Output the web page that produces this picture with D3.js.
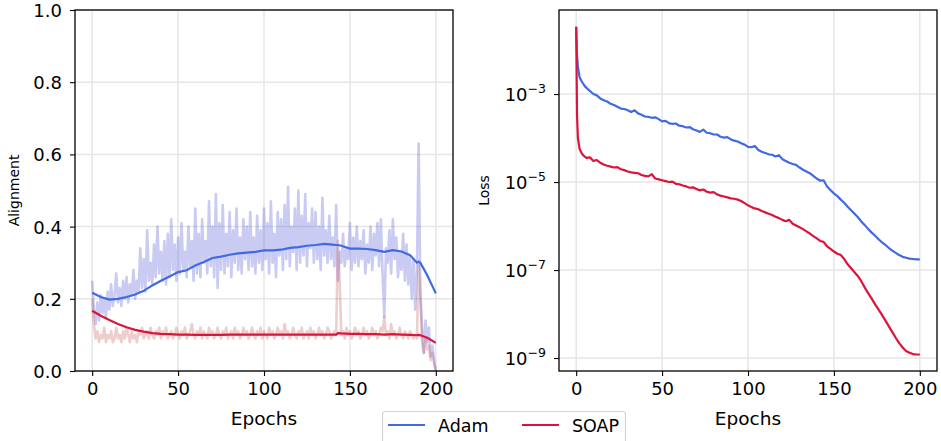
<!DOCTYPE html>
<html><head><meta charset="utf-8">
<script src="https://cdn.jsdelivr.net/npm/d3@7"></script>
<style>
body{margin:0;background:#fff;}
svg{display:block;font-family:"DejaVu Sans",sans-serif;}
</style></head><body>
<svg id="chart" width="941" height="441"></svg>
<script>
// ---- data ----
const seriesNames = ["Adam", "SOAP"];
const epochs = d3.range(0, 201);

// per-epoch alignment (raw)
const adamAlignRaw = [
0.25,0.17,0.13,0.19,0.14,0.21,0.16,0.20,0.15,0.22,
0.17,0.24,0.18,0.21,0.27,0.19,0.23,0.18,0.25,0.20,
0.26,0.19,0.24,0.21,0.28,0.20,0.25,0.22,0.34,0.23,
0.31,0.22,0.39,0.25,0.30,0.24,0.35,0.26,0.40,0.27,
0.33,0.25,0.36,0.24,0.38,0.26,0.42,0.28,0.35,0.25,
0.37,0.27,0.41,0.28,0.33,0.26,0.40,0.29,0.36,0.25,
0.45,0.27,0.38,0.26,0.42,0.30,0.36,0.27,0.47,0.29,
0.40,0.26,0.49,0.23,0.41,0.28,0.46,0.27,0.38,0.29,
0.44,0.26,0.39,0.30,0.45,0.28,0.37,0.27,0.42,0.31,
0.40,0.28,0.44,0.29,0.37,0.27,0.43,0.30,0.39,0.28,
0.45,0.31,0.41,0.27,0.47,0.30,0.38,0.26,0.44,0.32,
0.42,0.28,0.46,0.31,0.51,0.29,0.40,0.33,0.45,0.28,
0.50,0.30,0.43,0.32,0.49,0.29,0.41,0.34,0.45,0.30,
0.44,0.31,0.40,0.28,0.48,0.32,0.39,0.30,0.43,0.31,
0.37,0.29,0.46,0.25,0.33,0.30,0.38,0.29,0.34,0.31,
0.41,0.28,0.37,0.30,0.40,0.29,0.36,0.31,0.39,0.27,
0.35,0.30,0.40,0.28,0.38,0.32,0.41,0.29,0.42,0.27,
0.15,0.34,0.30,0.39,0.27,0.42,0.31,0.37,0.26,0.33,
0.28,0.38,0.25,0.35,0.24,0.32,0.20,0.31,0.17,0.28,
0.63,0.22,0.12,0.05,0.14,0.08,0.12,0.04,0.07,0.03,
0.00];
const soapAlignRaw = [
0.20,0.13,0.09,0.11,0.08,0.10,0.09,0.12,0.08,0.10,
0.09,0.11,0.08,0.09,0.12,0.09,0.10,0.08,0.11,0.09,
0.12,0.10,0.08,0.11,0.09,0.10,0.08,0.11,0.10,0.12,
0.09,0.10,0.11,0.09,0.12,0.10,0.09,0.11,0.10,0.12,
0.09,0.11,0.10,0.12,0.09,0.10,0.11,0.09,0.10,0.12,
0.10,0.09,0.11,0.10,0.12,0.09,0.10,0.11,0.13,0.10,
0.09,0.11,0.10,0.12,0.09,0.11,0.10,0.09,0.12,0.10,
0.11,0.09,0.10,0.12,0.10,0.09,0.11,0.10,0.12,0.09,
0.10,0.11,0.09,0.12,0.10,0.11,0.09,0.10,0.12,0.10,
0.11,0.09,0.10,0.12,0.10,0.09,0.11,0.10,0.12,0.09,
0.11,0.10,0.09,0.12,0.10,0.11,0.09,0.10,0.12,0.10,
0.11,0.09,0.13,0.10,0.11,0.09,0.10,0.12,0.10,0.09,
0.11,0.10,0.12,0.09,0.10,0.11,0.09,0.12,0.10,0.11,
0.09,0.10,0.12,0.10,0.11,0.09,0.10,0.12,0.11,0.09,
0.10,0.11,0.10,0.36,0.25,0.10,0.11,0.09,0.12,0.10,
0.11,0.09,0.10,0.12,0.10,0.11,0.09,0.10,0.12,0.10,
0.11,0.09,0.10,0.12,0.10,0.11,0.09,0.10,0.12,0.11,
0.15,0.10,0.11,0.09,0.13,0.10,0.11,0.09,0.10,0.12,
0.10,0.09,0.11,0.10,0.09,0.11,0.10,0.09,0.10,0.09,
0.30,0.20,0.08,0.05,0.09,0.06,0.07,0.03,0.05,0.02,
0.00];

// smoothed alignment
const smoothEpochs = [0,5,10,15,20,25,30,35,40,45,50,55,60,65,70,75,80,85,90,95,100,
  105,110,115,120,125,130,135,140,142,143,145,150,155,160,165,170,175,180,185,189,190,191,195,200];
const adamAlignSmooth = [0.217,0.205,0.198,0.200,0.205,0.212,0.222,0.237,0.250,0.262,0.274,
  0.279,0.292,0.302,0.313,0.317,0.322,0.326,0.328,0.330,0.334,
  0.334,0.336,0.341,0.343,0.347,0.349,0.352,0.350,0.349,0.349,0.347,0.339,0.339,0.338,0.335,
  0.330,0.335,0.331,0.321,0.300,0.303,0.300,0.265,0.215];
const soapAlignSmooth = [0.167,0.153,0.141,0.130,0.121,0.114,0.109,0.105,0.103,0.102,0.101,
  0.101,0.100,0.100,0.100,0.100,0.101,0.101,0.101,0.101,0.101,
  0.101,0.101,0.101,0.101,0.101,0.101,0.101,0.101,0.101,0.105,0.104,0.103,0.103,0.102,0.102,
  0.101,0.102,0.101,0.100,0.099,0.100,0.099,0.092,0.078];

// training loss, stored as log10 exponents
const lossEpochs = [0,0.5,1,2,3,4,5,6,8,10,12,14,16,18,20,22,24,26,28,30,32,34,36,38,40,42,44,46,48,50,
  52,54,56,58,60,62,64,66,68,70,72,74,76,78,80,82,84,86,88,90,92,94,96,98,100,
  102,104,106,108,110,112,114,116,118,120,122,124,126,128,130,132,134,136,138,140,
  142,144,146,148,150,152,154,156,158,160,162,164,166,168,170,172,174,176,178,180,
  182,184,186,188,190,192,194,196,198,200];
const adamLossExp = [-1.47,-2.10,-2.38,-2.62,-2.70,-2.76,-2.82,-2.86,-2.93,-3.00,-3.03,-3.10,-3.14,-3.17,-3.22,-3.25,-3.29,-3.33,-3.34,-3.37,-3.41,-3.37,-3.44,-3.47,-3.51,-3.52,-3.54,-3.53,-3.57,-3.62,
  -3.61,-3.66,-3.68,-3.67,-3.72,-3.73,-3.76,-3.75,-3.80,-3.83,-3.86,-3.81,-3.88,-3.89,-3.92,-3.92,-3.97,-3.99,-3.98,-4.03,-4.06,-4.08,-4.12,-4.15,-4.20,
  -4.21,-4.18,-4.27,-4.31,-4.34,-4.37,-4.38,-4.42,-4.39,-4.48,-4.52,-4.56,-4.59,-4.61,-4.67,-4.72,-4.76,-4.80,-4.86,-4.92,
  -4.97,-4.96,-5.10,-5.18,-5.26,-5.32,-5.40,-5.47,-5.56,-5.64,-5.72,-5.80,-5.90,-5.98,-6.07,-6.15,-6.22,-6.30,-6.37,-6.43,
  -6.50,-6.56,-6.61,-6.66,-6.70,-6.72,-6.74,-6.75,-6.76,-6.76];
const soapLossExp = [-1.47,-3.50,-4.00,-4.25,-4.33,-4.39,-4.42,-4.45,-4.44,-4.52,-4.50,-4.56,-4.60,-4.63,-4.65,-4.67,-4.66,-4.71,-4.73,-4.76,-4.78,-4.79,-4.80,-4.84,-4.86,-4.87,-4.82,-4.92,-4.94,-4.96,
  -4.98,-5.00,-4.99,-5.04,-5.05,-5.08,-5.10,-5.13,-5.12,-5.16,-5.19,-5.17,-5.22,-5.24,-5.23,-5.28,-5.31,-5.33,-5.35,-5.37,-5.38,-5.40,-5.43,-5.48,-5.53,
  -5.57,-5.60,-5.62,-5.66,-5.69,-5.72,-5.75,-5.79,-5.82,-5.86,-5.89,-5.86,-5.95,-5.99,-6.03,-6.07,-6.12,-6.17,-6.23,-6.28,
  -6.34,-6.36,-6.46,-6.52,-6.58,-6.63,-6.66,-6.75,-6.87,-6.96,-7.05,-7.14,-7.26,-7.40,-7.53,-7.65,-7.78,-7.90,-8.02,-8.15,
  -8.28,-8.41,-8.54,-8.66,-8.76,-8.84,-8.88,-8.91,-8.92,-8.92];

const xTicks = [0, 50, 100, 150, 200];
const alignTicks = [0, 0.2, 0.4, 0.6, 0.8, 1.0];
const lossTickExps = [-3, -5, -7, -9];

// ---- drawing ----
const colors = {Adam: "#4169e1", SOAP: "#dc143c"};
const rawColors = {Adam: "#6468dc", SOAP: "#c04848"};
const svg = d3.select("#chart");
const gridColor = "#e6e6e6";

function frame(g, x0, x1, y0, y1) {
  g.append("rect").attr("x", x0).attr("y", y0).attr("width", x1 - x0).attr("height", y1 - y0)
    .attr("fill", "none").attr("stroke", "#000").attr("stroke-width", 1.3);
}

// left panel: alignment
const L = {x0: 75, x1: 453, y0: 10, y1: 371};
const xL = d3.scaleLinear().domain([-10, 210]).range([L.x0, L.x1]);
const yL = d3.scaleLinear().domain([0, 1]).range([L.y1, L.y0]);

// right panel: loss (log scale)
const R = {x0: 559, x1: 937, y0: 10, y1: 371};
const xR = d3.scaleLinear().domain([-10, 210]).range([R.x0, R.x1]);
const yR = d3.scaleLog().domain([Math.pow(10, -9.295), Math.pow(10, -1.09)]).range([R.y1, R.y0]);

function grid(g, P, xs, xTickVals, ys, yTickVals) {
  g.selectAll("line.gx").data(xTickVals).join("line").attr("class", "gx")
    .attr("x1", d => xs(d)).attr("x2", d => xs(d)).attr("y1", P.y0).attr("y2", P.y1)
    .attr("stroke", gridColor).attr("stroke-width", 1.5);
  g.selectAll("line.gy").data(yTickVals).join("line").attr("class", "gy")
    .attr("y1", d => ys(d)).attr("y2", d => ys(d)).attr("x1", P.x0).attr("x2", P.x1)
    .attr("stroke", gridColor).attr("stroke-width", 1.5);
}

function styleAxis(sel) {
  sel.select(".domain").remove();
  sel.selectAll(".tick line").attr("stroke", "#000").attr("stroke-width", 1.1);
  sel.selectAll(".tick text").attr("fill", "#000").attr("font-size", 18)
    .attr("font-family", "DejaVu Sans, sans-serif");
}

// ----- left -----
const gl = svg.append("g");
grid(gl, L, xL, xTicks, yL, alignTicks);

const clipL = svg.append("clipPath").attr("id", "clipL");
clipL.append("rect").attr("x", L.x0).attr("y", L.y0).attr("width", L.x1 - L.x0).attr("height", L.y1 - L.y0);
const plotL = gl.append("g").attr("clip-path", "url(#clipL)");

const rawLine = d3.line().x((d, i) => xL(epochs[i])).y(d => yL(d));
plotL.append("path").attr("d", rawLine(adamAlignRaw)).attr("fill", "none")
  .attr("stroke", rawColors.Adam).attr("stroke-opacity", 0.34).attr("stroke-width", 2.6)
  .attr("stroke-linejoin", "round");
plotL.append("path").attr("d", rawLine(soapAlignRaw)).attr("fill", "none")
  .attr("stroke", rawColors.SOAP).attr("stroke-opacity", 0.27).attr("stroke-width", 2.6)
  .attr("stroke-linejoin", "round");

const smoothLine = d3.line().x((d, i) => xL(smoothEpochs[i])).y(d => yL(d));
plotL.append("path").attr("d", smoothLine(adamAlignSmooth)).attr("fill", "none")
  .attr("stroke", colors.Adam).attr("stroke-width", 2.2);
plotL.append("path").attr("d", smoothLine(soapAlignSmooth)).attr("fill", "none")
  .attr("stroke", colors.SOAP).attr("stroke-width", 2.2);

const axXL = gl.append("g").attr("transform", `translate(0,${L.y1})`)
  .call(d3.axisBottom(xL).tickValues(xTicks).tickSize(5).tickPadding(6).tickFormat(d3.format("d")));
styleAxis(axXL);
const axYL = gl.append("g").attr("transform", `translate(${L.x0},0)`)
  .call(d3.axisLeft(yL).tickValues(alignTicks).tickSize(5).tickPadding(8).tickFormat(d3.format(".1f")));
styleAxis(axYL);
axYL.selectAll(".tick text").attr("dy", "0.36em");
frame(gl, L.x0, L.x1, L.y0, L.y1);

gl.append("text").attr("x", (L.x0 + L.x1) / 2).attr("y", 425).attr("text-anchor", "middle")
  .attr("font-size", 18.5).text("Epochs");
gl.append("text").attr("transform", `translate(18.5,${(L.y0 + L.y1) / 2}) rotate(-90)`)
  .attr("text-anchor", "middle").attr("font-size", 14).text("Alignment");

// ----- right -----
const gr = svg.append("g");
const lossTicks = lossTickExps.map(e => Math.pow(10, e));
grid(gr, R, xR, xTicks, yR, lossTicks);

const clipR = svg.append("clipPath").attr("id", "clipR");
clipR.append("rect").attr("x", R.x0).attr("y", R.y0).attr("width", R.x1 - R.x0).attr("height", R.y1 - R.y0);
const plotR = gr.append("g").attr("clip-path", "url(#clipR)");

const lossLine = d3.line().x((d, i) => xR(lossEpochs[i])).y(d => yR(Math.pow(10, d)));
plotR.append("path").attr("d", lossLine(adamLossExp)).attr("fill", "none")
  .attr("stroke", colors.Adam).attr("stroke-width", 2.2).attr("stroke-linejoin", "round");
plotR.append("path").attr("d", lossLine(soapLossExp)).attr("fill", "none")
  .attr("stroke", colors.SOAP).attr("stroke-width", 2.2).attr("stroke-linejoin", "round");

const axXR = gr.append("g").attr("transform", `translate(0,${R.y1})`)
  .call(d3.axisBottom(xR).tickValues(xTicks).tickSize(5).tickPadding(6).tickFormat(d3.format("d")));
styleAxis(axXR);
const axYR = gr.append("g").attr("transform", `translate(${R.x0},0)`)
  .call(d3.axisLeft(yR).tickValues(lossTicks).tickSize(5).tickPadding(8).tickFormat(() => ""));
styleAxis(axYR);
axYR.selectAll(".tick").each(function (d) {
  const t = d3.select(this).select("text");
  t.text(null).attr("dy", "0.36em");
  t.append("tspan").text("10");
  t.append("tspan").attr("font-size", 12.5).attr("dy", "-0.62em").text("\u2212" + Math.round(-Math.log10(d)));
});
frame(gr, R.x0, R.x1, R.y0, R.y1);

gr.append("text").attr("x", (R.x0 + R.x1) / 2).attr("y", 425).attr("text-anchor", "middle")
  .attr("font-size", 18.5).text("Epochs");
gr.append("text").attr("transform", `translate(489,${(R.y0 + R.y1) / 2}) rotate(-90)`)
  .attr("text-anchor", "middle").attr("font-size", 14).text("Loss");

// ----- legend -----
const lg = svg.append("g");
lg.append("rect").attr("x", 382.5).attr("y", 411.5).attr("width", 243).attr("height", 45)
  .attr("rx", 3).attr("fill", "#fff").attr("fill-opacity", 0.9)
  .attr("stroke", "#d6d6d6").attr("stroke-width", 1.2);
const legendPos = {Adam: {x: 388, tx: 438}, SOAP: {x: 522, tx: 572}};
seriesNames.forEach(name => {
  const p = legendPos[name];
  lg.append("line").attr("x1", p.x).attr("x2", p.x + 37).attr("y1", 425).attr("y2", 425)
    .attr("stroke", colors[name]).attr("stroke-width", 2);
  lg.append("text").attr("x", p.tx).attr("y", 431.5).attr("font-size", 17.5).text(name);
});
</script>
</body></html>
